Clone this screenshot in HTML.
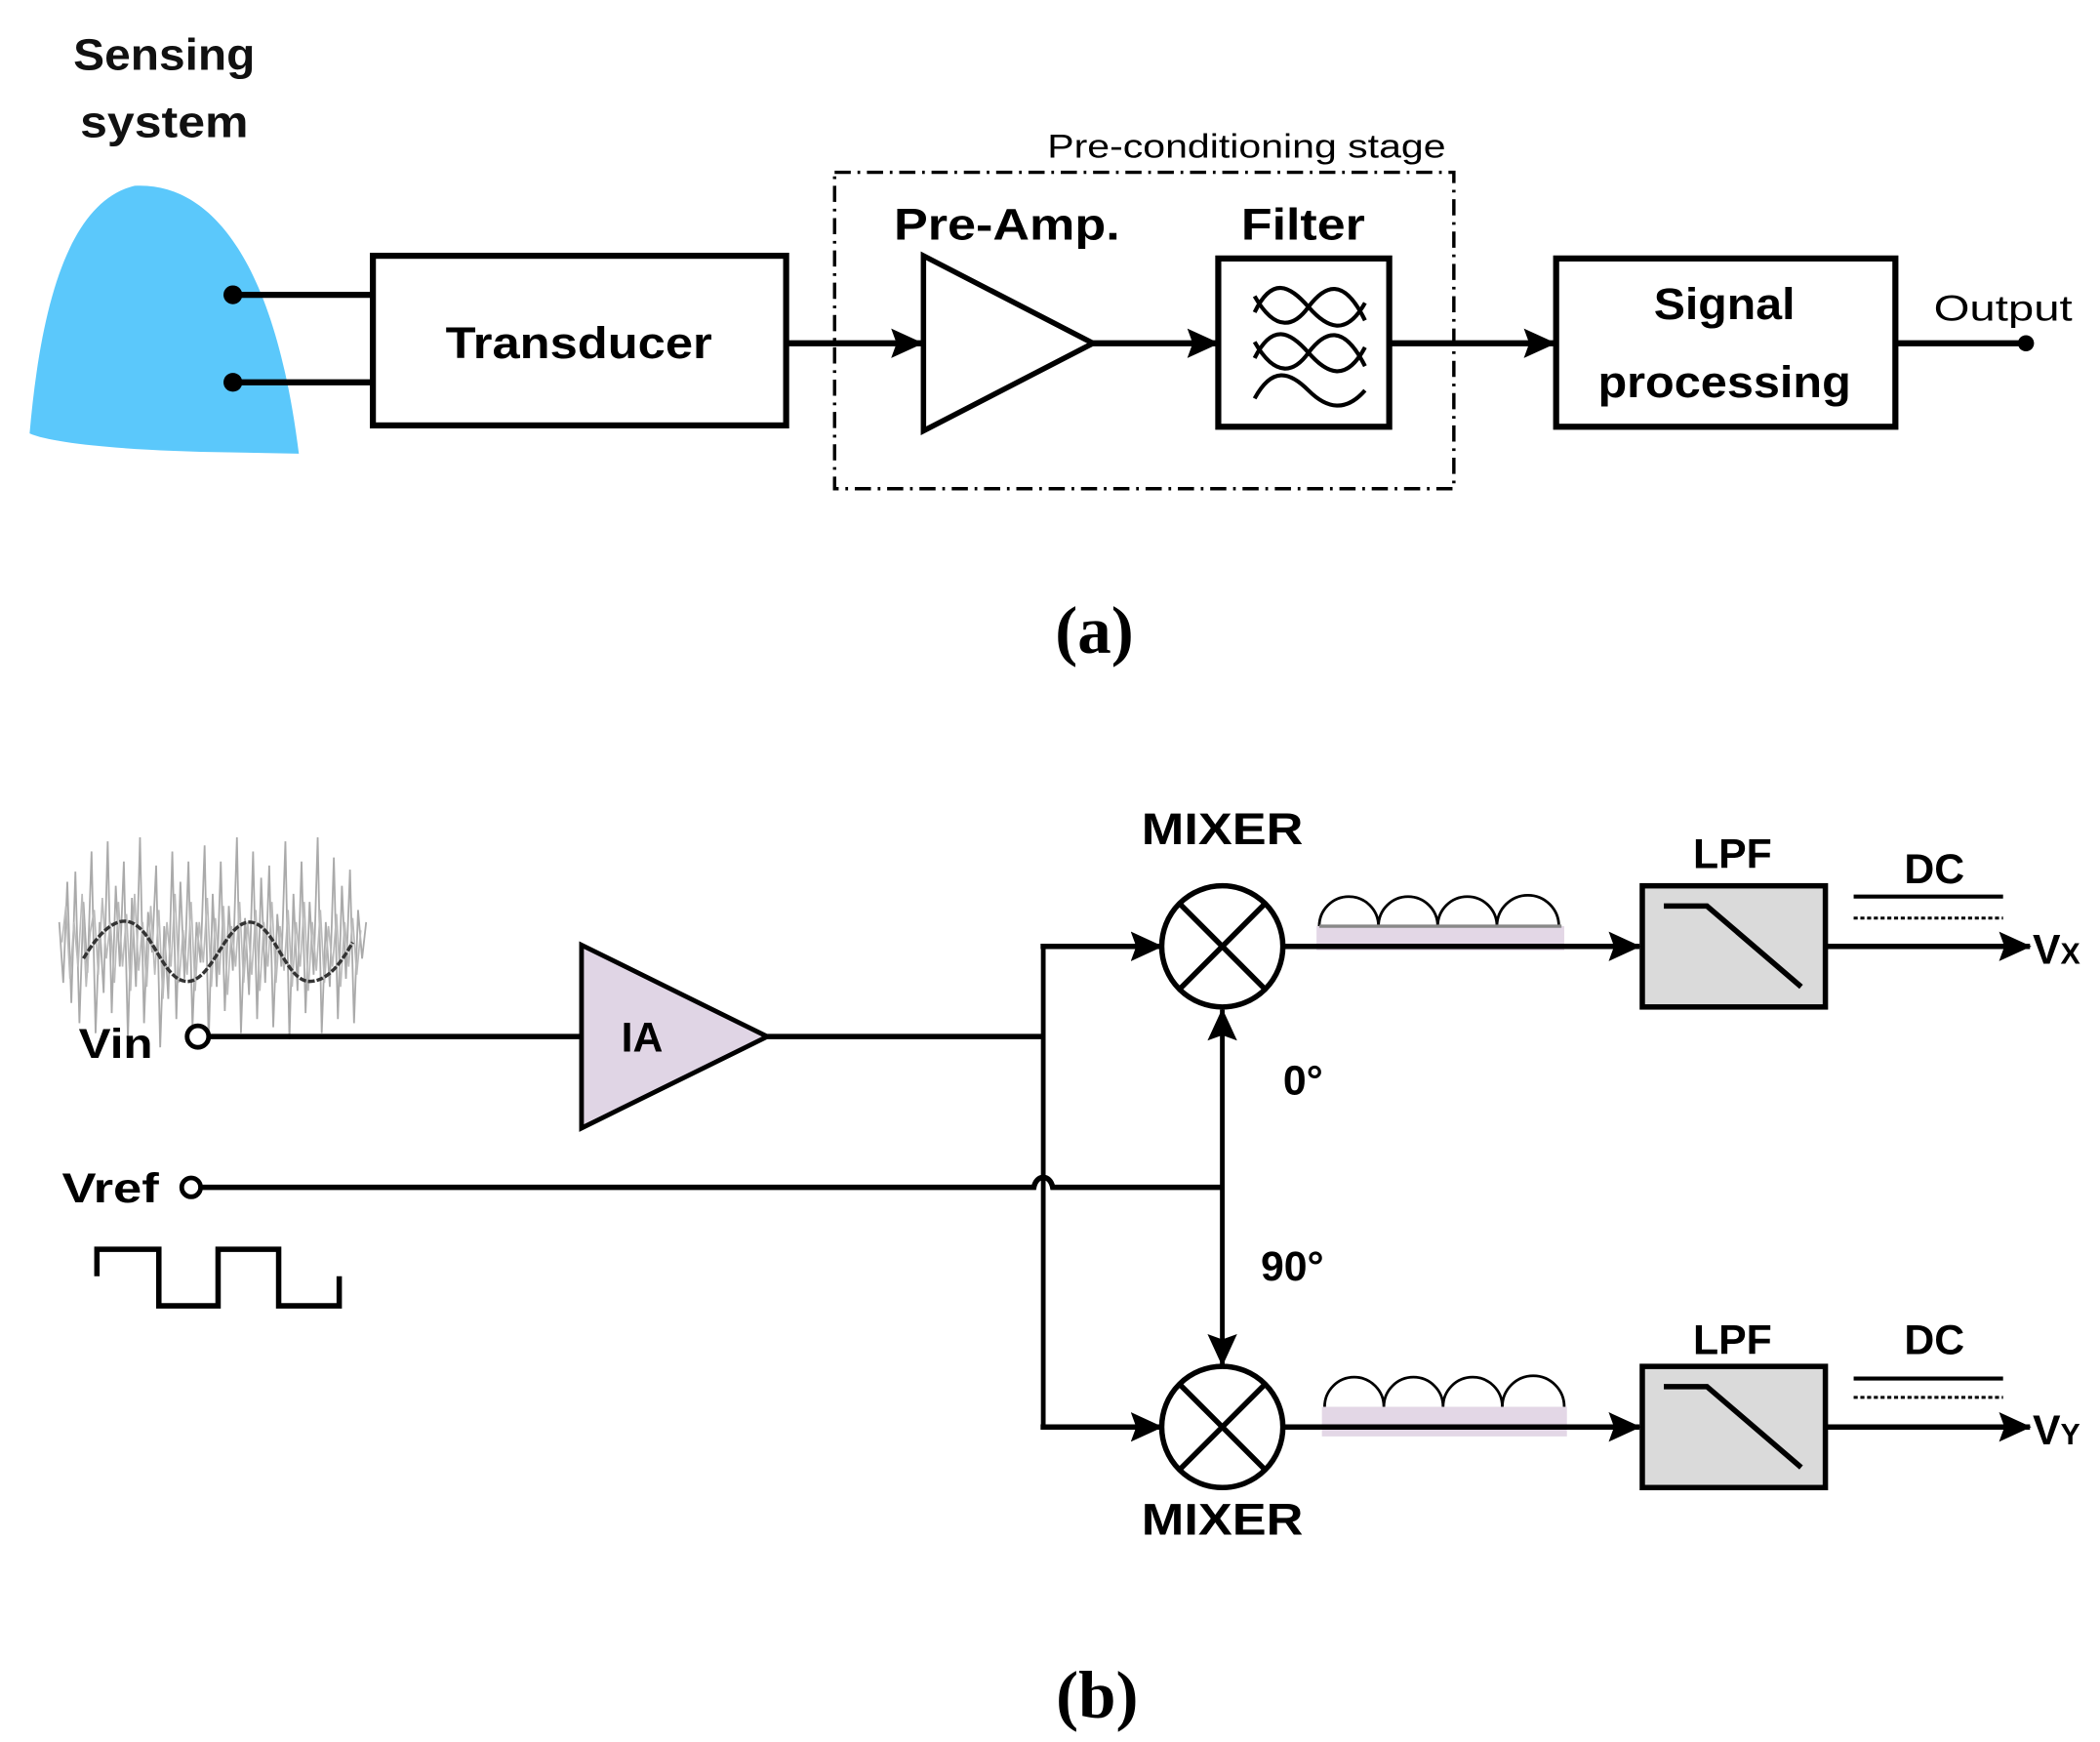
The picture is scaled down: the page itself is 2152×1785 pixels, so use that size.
<!DOCTYPE html>
<html><head><meta charset="utf-8"><style>
html,body{margin:0;padding:0;background:#fff;}
svg{display:block;}
text{font-family:"Liberation Sans",sans-serif;}
.b{font-weight:bold;}
</style></head><body>
<svg width="2152" height="1785" viewBox="0 0 1560 1294" preserveAspectRatio="none" xmlns="http://www.w3.org/2000/svg">
<defs>
<marker id="ar2" markerWidth="24" markerHeight="24" refX="23" refY="12" orient="auto" markerUnits="userSpaceOnUse" viewBox="0 0 24 24">
<path d="M0,1 L24,12 L0,23 L4,12 Z" fill="#000"/></marker>
</defs>

<!-- (a) -->
<text x="122" y="52" font-size="33" class="b" text-anchor="middle" textLength="135" lengthAdjust="spacingAndGlyphs" fill="#111">Sensing</text>
<text x="122" y="102" font-size="33" class="b" text-anchor="middle" textLength="125" lengthAdjust="spacingAndGlyphs" fill="#111">system</text>
<path d="M22,322 C30,230 50,150 100,138 C160,135 205,200 222,337 L170,336 C100,335 40,330 22,322 Z" fill="#5bc8fb"/>
<circle cx="173" cy="219" r="7" fill="#000"/><circle cx="173" cy="284" r="7" fill="#000"/>
<line x1="173" y1="219" x2="277" y2="219" stroke="#000" stroke-width="4.5"/>
<line x1="173" y1="284" x2="277" y2="284" stroke="#000" stroke-width="4.5"/>
<rect x="277" y="190" width="307" height="126" fill="#fff" stroke="#000" stroke-width="4.5"/>
<text x="430" y="266" font-size="33" class="b" text-anchor="middle" textLength="198" lengthAdjust="spacingAndGlyphs">Transducer</text>
<rect x="620" y="128" width="460" height="235" fill="none" stroke="#000" stroke-width="2.5" stroke-dasharray="12,5,2,5"/>
<text x="926" y="117" font-size="25" text-anchor="middle" textLength="296" lengthAdjust="spacingAndGlyphs">Pre-conditioning stage</text>
<line x1="585" y1="255" x2="685" y2="255" stroke="#000" stroke-width="4.5" marker-end="url(#ar2)"/>
<polygon points="686,190 686,320 812,255" fill="#fff" stroke="#000" stroke-width="4"/>
<text x="748" y="178" font-size="33" class="b" text-anchor="middle" textLength="168" lengthAdjust="spacingAndGlyphs">Pre-Amp.</text>
<line x1="812" y1="255" x2="905" y2="255" stroke="#000" stroke-width="4.5" marker-end="url(#ar2)"/>
<rect x="905" y="192" width="127" height="125" fill="#fff" stroke="#000" stroke-width="4.5"/>
<text x="968" y="178" font-size="33" class="b" text-anchor="middle" textLength="92" lengthAdjust="spacingAndGlyphs">Filter</text>
<g fill="none" stroke="#000" stroke-width="3">
<path d="M932,232 C945,205 958,212 972,228 C986,244 1000,250 1014,225"/>
<path d="M932,220 C948,248 962,242 972,228 C984,212 998,205 1014,238"/>
<path d="M932,266 C945,240 958,246 972,262 C986,278 1000,284 1014,258"/>
<path d="M932,254 C948,282 962,276 972,262 C984,246 998,240 1014,272"/>
<path d="M932,296 C945,272 958,276 972,290 C986,304 1000,306 1014,290"/>
</g>
<line x1="1032" y1="255" x2="1155" y2="255" stroke="#000" stroke-width="4.5" marker-end="url(#ar2)"/>
<rect x="1156" y="192" width="252" height="125" fill="#fff" stroke="#000" stroke-width="4.5"/>
<text x="1281" y="237" font-size="33" class="b" text-anchor="middle" textLength="105" lengthAdjust="spacingAndGlyphs">Signal</text>
<text x="1281" y="295" font-size="33" class="b" text-anchor="middle" textLength="188" lengthAdjust="spacingAndGlyphs">processing</text>
<line x1="1408" y1="255" x2="1505" y2="255" stroke="#000" stroke-width="4.5"/>
<circle cx="1505" cy="255" r="6" fill="#000"/>
<text x="1488" y="238" font-size="27" text-anchor="middle" textLength="103" lengthAdjust="spacingAndGlyphs">Output</text>
<text x="813" y="485" font-size="50" text-anchor="middle" style="font-family:'Liberation Serif',serif" class="b">(a)</text>

<!-- (b) noise -->
<g transform="translate(0,700) scale(1,1.5) translate(0,-700)">
<polyline fill="none" stroke="#aaa" stroke-width="1.3" points="44,690 47,720 50,670 53,730 56,665 59,740 62,680 65,715 68,655 71,745 74,690 77,725 80,650 83,735 86,672 89,712 92,660 95,748 98,678 101,722 104,648 107,740 110,685 113,705 116,662 119,752 122,692 125,728 128,655 131,738 134,670 137,718 140,660 143,742 146,690 149,710 152,652 155,750 158,676 161,722 164,660 167,734 170,682 173,714 176,648 179,745 182,688 185,726 188,655 191,738 194,668 197,720 200,662 203,742 206,686 209,712 212,650 215,748 218,676 221,724 224,660 227,735 230,680 233,716 236,648 239,745 242,690 245,722 248,658 251,738 254,672 257,718 260,664 263,740 266,684 269,708 272,690"/>
<polyline fill="none" stroke="#bbb" stroke-width="1.2" points="46,700 49,682 52,718 55,690 58,712 61,676 64,722 67,695 70,684 73,716 76,678 79,708 82,690 85,720 88,680 91,712 94,686 97,724 100,676 103,714 106,690 109,722 112,682 115,716 118,684 121,728 124,690 127,712 130,676 133,720 136,694 139,716 142,680 145,724 148,690 151,710 154,678 157,722 160,688 163,716 166,682 169,726 172,692 175,712 178,680 181,720 184,690 187,716 190,684 193,724 196,690 199,712 202,680 205,720 208,692 211,714 214,684 217,722 220,690 223,712 226,680 229,724 232,690 235,714 238,684 241,720 244,692 247,712 250,686 253,722 256,690 259,712 262,688 265,716 268,694"/>
</g>
<path d="M62,712 C75,690 88,680 99,686 C115,694 122,730 140,729 C158,728 168,684 186,685 C204,686 212,729 230,729 C245,729 255,712 262,700" fill="none" stroke="#333" stroke-width="2.5" stroke-dasharray="5,1.5"/>

<text x="86" y="786" font-size="31" class="b" text-anchor="middle" textLength="55" lengthAdjust="spacingAndGlyphs">Vin</text>
<circle cx="147" cy="770" r="8" fill="#fff" stroke="#000" stroke-width="3.5"/>
<line x1="155" y1="770" x2="432" y2="770" stroke="#000" stroke-width="4"/>
<polygon points="432,702 432,838 570,770" fill="#e0d5e5" stroke="#000" stroke-width="3.5"/>
<text x="477" y="781" font-size="31" class="b" text-anchor="middle">IA</text>
<line x1="570" y1="770" x2="775" y2="770" stroke="#000" stroke-width="4"/>
<line x1="775" y1="703" x2="775" y2="1060" stroke="#000" stroke-width="3.5"/>
<line x1="773" y1="703" x2="863" y2="703" stroke="#000" stroke-width="4" marker-end="url(#ar2)"/>
<line x1="773" y1="1060" x2="863" y2="1060" stroke="#000" stroke-width="4" marker-end="url(#ar2)"/>

<text x="82" y="893" font-size="31" class="b" text-anchor="middle" textLength="72" lengthAdjust="spacingAndGlyphs">Vref</text>
<circle cx="142" cy="882" r="7" fill="#fff" stroke="#000" stroke-width="3.5"/>
<path d="M149,882 L768,882 C770,872 780,872 782,882 L908,882" fill="none" stroke="#000" stroke-width="4"/>
<line x1="908" y1="800" x2="908" y2="750" stroke="#000" stroke-width="3.5" marker-end="url(#ar2)"/>
<line x1="908" y1="800" x2="908" y2="1014" stroke="#000" stroke-width="3.5" marker-end="url(#ar2)"/>
<text x="968" y="813" font-size="31" class="b" text-anchor="middle">0°</text>
<text x="960" y="951" font-size="31" class="b" text-anchor="middle">90°</text>
<polyline points="72,948 72,928 118,928 118,970 162,970 162,928 207,928 207,970 252,970 252,948" fill="none" stroke="#000" stroke-width="4"/>

<!-- mixers -->
<g stroke="#000" stroke-width="4" fill="#fff">
<circle cx="908" cy="703" r="45"/><circle cx="908" cy="1060" r="45"/>
<line x1="876" y1="671" x2="940" y2="735"/><line x1="940" y1="671" x2="876" y2="735"/>
<line x1="876" y1="1028" x2="940" y2="1092"/><line x1="940" y1="1028" x2="876" y2="1092"/>
</g>
<text x="908" y="627" font-size="33" class="b" text-anchor="middle" textLength="120" lengthAdjust="spacingAndGlyphs">MIXER</text>
<text x="908" y="1140" font-size="33" class="b" text-anchor="middle" textLength="120" lengthAdjust="spacingAndGlyphs">MIXER</text>

<!-- upper chain -->
<rect x="978" y="688" width="184" height="18" fill="#e3d7e6"/>
<path d="M980,688 A22,22 0 0 1 1024,688 A22,22 0 0 1 1068,688 A22,22 0 0 1 1112,688 A22,22 0 0 1 1158,688" fill="none" stroke="#000" stroke-width="2"/>
<line x1="980" y1="688" x2="1160" y2="688" stroke="#888" stroke-width="2.5"/>
<line x1="953" y1="703" x2="1218" y2="703" stroke="#000" stroke-width="4" marker-end="url(#ar2)"/>
<rect x="1220" y="658" width="136" height="90" fill="#dadada" stroke="#000" stroke-width="4"/>
<polyline points="1236,673 1268,673 1338,733" fill="none" stroke="#000" stroke-width="4"/>
<text x="1287" y="645" font-size="31" class="b" text-anchor="middle">LPF</text>
<text x="1437" y="656" font-size="31" class="b" text-anchor="middle">DC</text>
<line x1="1377" y1="666" x2="1488" y2="666" stroke="#000" stroke-width="3"/>
<line x1="1377" y1="682" x2="1488" y2="682" stroke="#000" stroke-width="2.2" stroke-dasharray="3,2"/>
<line x1="1356" y1="703" x2="1508" y2="703" stroke="#000" stroke-width="4" marker-end="url(#ar2)"/>
<text x="1510" y="716" font-size="31" class="b">V<tspan font-size="22">X</tspan></text>

<!-- lower chain -->
<rect x="982" y="1045" width="182" height="22" fill="#e3d7e6"/>
<path d="M984,1045 A22,22 0 0 1 1028,1045 A22,22 0 0 1 1072,1045 A22,22 0 0 1 1116,1045 A22,22 0 0 1 1162,1045" fill="none" stroke="#000" stroke-width="2"/>
<line x1="953" y1="1060" x2="1218" y2="1060" stroke="#000" stroke-width="4" marker-end="url(#ar2)"/>
<rect x="1220" y="1015" width="136" height="90" fill="#dadada" stroke="#000" stroke-width="4"/>
<polyline points="1236,1030 1268,1030 1338,1090" fill="none" stroke="#000" stroke-width="4"/>
<text x="1287" y="1006" font-size="31" class="b" text-anchor="middle">LPF</text>
<text x="1437" y="1006" font-size="31" class="b" text-anchor="middle">DC</text>
<line x1="1377" y1="1024" x2="1488" y2="1024" stroke="#000" stroke-width="3"/>
<line x1="1377" y1="1038" x2="1488" y2="1038" stroke="#000" stroke-width="2.2" stroke-dasharray="3,2"/>
<line x1="1356" y1="1060" x2="1508" y2="1060" stroke="#000" stroke-width="4" marker-end="url(#ar2)"/>
<text x="1510" y="1073" font-size="31" class="b">V<tspan font-size="22">Y</tspan></text>

<text x="815" y="1276" font-size="50" text-anchor="middle" style="font-family:'Liberation Serif',serif" class="b">(b)</text>
</svg>
</body></html>
